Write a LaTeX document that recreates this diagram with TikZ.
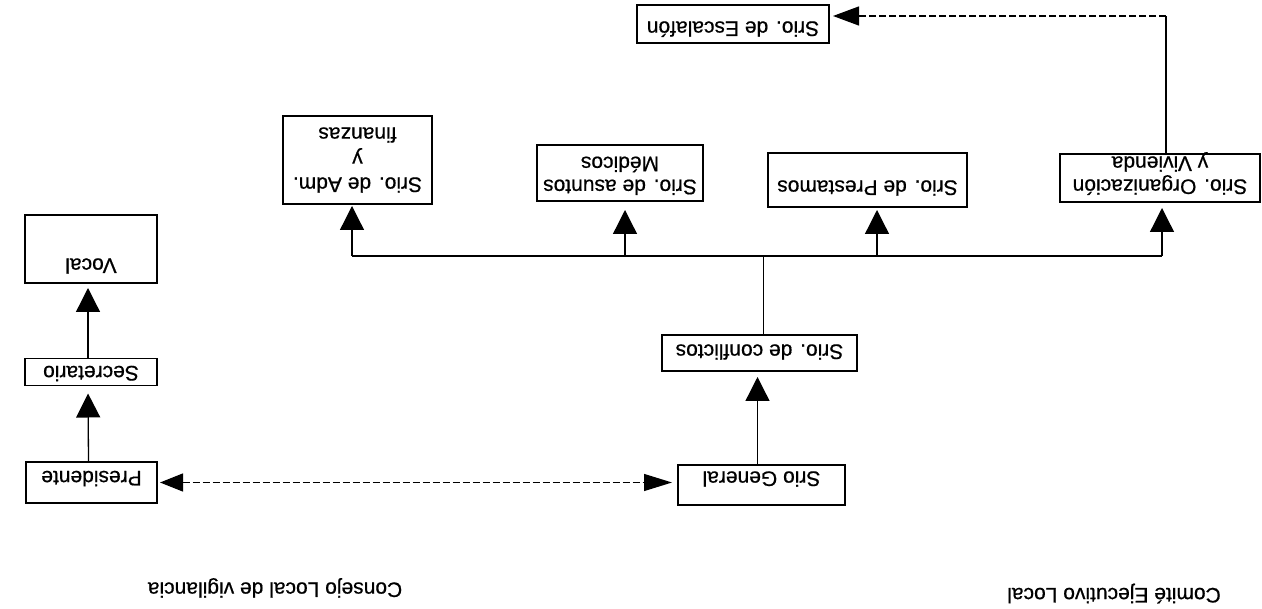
\documentclass[tikz,border=0pt]{standalone}
\usepackage{fontspec}
\setmainfont[FakeBold=0.6]{Liberation Sans}
\usepackage{graphicx}
\usetikzlibrary{arrows.meta}
\newcommand\updown[1]{\rotatebox{180}{#1}}
\begin{document}
\begin{tikzpicture}[x=1pt,y=-1pt,
  box/.style={draw, line width=1.1pt, inner sep=1pt, outer sep=0pt, font=\fontsize{21}{23}\selectfont},
  tv/.style={text height=0pt, text depth=#1},
  lbl/.style={inner sep=0pt, text height=0pt, text depth=0pt, font=\fontsize{21}{23}\selectfont},
  conn/.style={line width=1.3pt},
  arrv/.style={conn, -{Triangle[length=24pt,width=24pt]}},
  arrh/.style={conn, -{Triangle[length=26pt,width=19pt]}},
  dsh/.style={dash pattern=on 7pt off 3pt}
]
\useasboundingbox (0,0) rectangle (1262,609);

% boxes
\node[box, minimum width=192pt, minimum height=38pt, tv=5pt] (esc) at (733,24) {\updown{Srio. de Escalafón}};
\node[box, minimum width=200pt, minimum height=48pt, tv=43pt] (org) at (1160,178)
  {\updown{\begin{tabular}[b]{@{}c@{}}Srio. Organización\\y Vivienda\end{tabular}}};
\node[box, minimum width=199pt, minimum height=54pt, text height=1pt, text depth=0pt] (pre) at (867.5,180) {\updown{Srio. de Prestamos}};
\node[box, minimum width=166pt, minimum height=56pt, tv=32.5pt] (med) at (620,173)
  {\updown{\begin{tabular}[b]{@{}c@{}}Srio. de asuntos\\Médicos\end{tabular}}};
\node[box, minimum width=149pt, minimum height=88pt, tv=65pt, font=\fontsize{21}{25}\selectfont] (adm) at (357.5,160)
  {\updown{\begin{tabular}[b]{@{}c@{}}Srio. de Adm.\\y\\finanzas\end{tabular}}};
\node[box, minimum width=195pt, minimum height=36pt, tv=17pt] (conf) at (759.5,353) {\updown{Srio. de conflictos}};
\node[box, minimum width=167pt, minimum height=40pt, tv=27pt] (gen) at (761.5,485) {\updown{Srio General}};
\node[box, minimum width=132pt, minimum height=68pt, text height=19pt, text depth=0pt] (voc) at (91,249) {\updown{Vocal}};
\node[box, minimum width=132pt, minimum height=27pt, tv=12pt] (sec) at (91,372) {\updown{Secretario}};
\node[box, minimum width=131pt, minimum height=41pt, tv=23pt] (pres) at (91.5,482.5) {\updown{Presidente}};

% labels
\node[lbl] (lcons) at (275,582.5) {\updown{Consejo Local de vigilancia}};
\node[lbl] (lcom) at (1114,588) {\updown{Comité Ejecutivo Local}};

% connectors
\coordinate (busL) at (352,256);
\coordinate (busR) at (1162,256);
\coordinate (corner) at (1166,16);

\draw[conn] (busL) -- (busR);
\draw[conn] ([xshift=4pt]conf.north) -- ([xshift=4pt]conf.north |- busL);
\draw[arrv, shorten >=2pt] (busL) -- (busL |- adm.south);
\draw[arrv, shorten >=9pt] ([xshift=5pt]med.south |- busL) -- ([xshift=5pt]med.south);
\draw[arrv, shorten >=3pt] ([xshift=9.5pt]pre.south |- busL) -- ([xshift=9.5pt]pre.south);
\draw[arrv, shorten >=6pt] (busR) -- (busR |- org.south);

\draw[conn] ([xshift=6pt]org.north) -- (corner);
\draw[arrh, dsh, shorten >=4pt] (corner) -- (corner -| esc.east);

\draw[arrv, shorten >=6pt] ([xshift=-4pt]gen.north) -- ([xshift=-4pt]gen.north |- conf.south);
\draw[conn, dsh, {Triangle[length=23pt,width=18pt]}-{Triangle[length=28pt,width=17pt]}, shorten <=3pt, shorten >=6pt]
  (pres.east) -- (pres.east -| gen.west);

\draw[arrv, shorten >=8pt] ([xshift=-3pt]pres.north) -- ([xshift=-3pt]sec.south);
\draw[arrv, shorten >=5pt] ([xshift=-3pt]sec.north) -- ([xshift=-3pt]voc.south);
\end{tikzpicture}
\end{document}
